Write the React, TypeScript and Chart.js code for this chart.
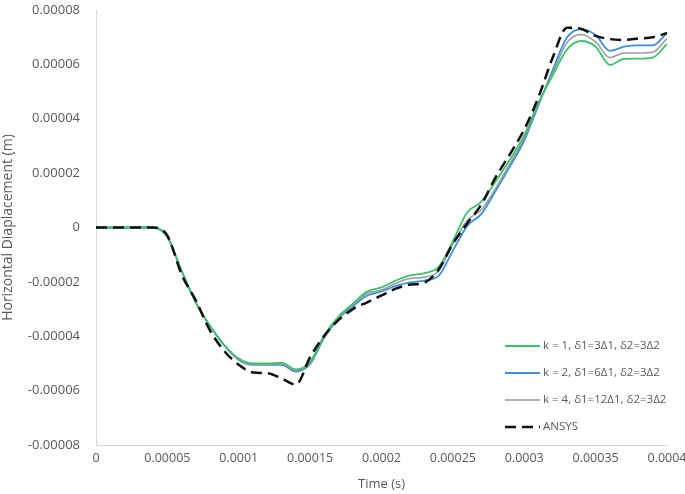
import React, { useEffect, useRef } from "react";
import { Chart, registerables } from "chart.js";

Chart.register(...registerables);

// time in seconds (step 1e-5)
const timeSteps: number[] = [
  0, 0.00001, 0.00002, 0.00003, 0.00004, 0.00005, 0.00006, 0.00007, 0.00008, 0.00009,
  0.0001, 0.00011, 0.00012, 0.00013, 0.00014, 0.00015, 0.00016, 0.00017, 0.00018, 0.00019,
  0.0002, 0.00021, 0.00022, 0.00023, 0.00024, 0.00025, 0.00026, 0.00027, 0.00028, 0.00029,
  0.0003, 0.00031, 0.00032, 0.00033, 0.00034, 0.00035, 0.00036, 0.00037, 0.00038, 0.00039,
  0.0004,
];

// displacement in units of 1e-5 m
const k1Values: number[] = [
  0, 0, 0, 0, 0, -0.35, -1.6, -2.77, -3.63, -4.33,
  -4.82, -5.0, -5.0, -4.97, -5.22, -4.94, -3.96, -3.27, -2.8, -2.35,
  -2.2, -1.95, -1.76, -1.68, -1.45, -0.5, 0.55, 0.95, 1.7, 2.5,
  3.4, 4.6, 5.6, 6.55, 6.86, 6.65, 5.98, 6.2, 6.21, 6.25,
  6.75,
];
const k2Values: number[] = [
  0, 0, 0, 0, 0, -0.35, -1.6, -2.77, -3.63, -4.35,
  -4.87, -5.05, -5.05, -5.05, -5.3, -5.02, -4.05, -3.35, -2.9, -2.5,
  -2.35, -2.15, -2.02, -1.95, -1.78, -0.85, 0.05, 0.5, 1.35, 2.25,
  3.2, 4.5, 5.8, 7.0, 7.3, 7.08, 6.5, 6.65, 6.7, 6.7,
  7.15,
];
const k4Values: number[] = [
  0, 0, 0, 0, 0, -0.35, -1.6, -2.77, -3.63, -4.34,
  -4.85, -5.03, -5.03, -5.02, -5.26, -4.98, -4.0, -3.3, -2.85, -2.42,
  -2.3, -2.05, -1.88, -1.83, -1.6, -0.6, 0.26, 0.65, 1.45, 2.35,
  3.3, 4.55, 5.7, 6.8, 7.1, 6.83, 6.25, 6.42, 6.42, 6.45,
  6.95,
];
const ansysValues: number[] = [
  0, 0, 0, 0, 0, -0.3, -1.73, -2.69, -3.8, -4.55,
  -5.05, -5.33, -5.36, -5.55, -5.78, -4.77, -3.97, -3.4, -3.0, -2.75,
  -2.5, -2.25, -2.1, -2.03, -1.55, -0.6, 0.15, 0.85, 1.85, 2.7,
  3.61, 4.8, 6.26, 7.35, 7.3, 7.05, 6.93, 6.9, 6.95, 7.0,
  7.15,
];

const seriesLabels: string[] = [
  "k = 1, δ1=3Δ1, δ2=3Δ2",
  "k = 2, δ1=6Δ1, δ2=3Δ2",
  "k = 4, δ1=12Δ1, δ2=3Δ2",
  "ANSYS",
];

const xTickLabels: string[] = [
  "0", "0.00005", "0.0001", "0.00015", "0.0002", "0.00025", "0.0003", "0.00035", "0.0004",
];
const yTickLabels: string[] = [
  "-0.00008", "-0.00006", "-0.00004", "-0.00002", "0", "0.00002", "0.00004", "0.00006", "0.00008",
];

const FONT = "'Open Sans', 'Liberation Sans', sans-serif";
const TEXT = "#595959";

const toPoints = (vals: number[]) =>
  vals.map((v, i) => ({ x: timeSteps[i], y: v * 1e-5 }));

const legendPlugin = {
  id: "insideLegend",
  afterDraw(chart: any) {
    const { ctx, chartArea } = chart;
    const left = chartArea.right - 162;
    const top = chartArea.bottom - 99;
    ctx.save();
    ctx.font = `11.5px ${FONT}`;
    ctx.textBaseline = "middle";
    ctx.textAlign = "left";
    chart.data.datasets.forEach((ds: any, i: number) => {
      const y = top + i * 27;
      ctx.beginPath();
      ctx.strokeStyle = ds.borderColor;
      ctx.lineWidth = ds.borderWidth;
      ctx.setLineDash(ds.borderDash || []);
      ctx.moveTo(left, y);
      ctx.lineTo(left + 35, y);
      ctx.stroke();
      ctx.setLineDash([]);
      ctx.fillStyle = TEXT;
      ctx.fillText(ds.label, left + 38, y);
    });
    ctx.restore();
  },
};

export default function App() {
  const ref = useRef<HTMLCanvasElement | null>(null);
  useEffect(() => {
    document.body.style.margin = "0";
    const canvas = ref.current!;
    const chart = new Chart(canvas, {
      type: "line",
      data: {
        datasets: [
          {
            label: seriesLabels[0],
            data: toPoints(k1Values),
            borderColor: "#3cc26a",
            borderWidth: 1.8,
            pointRadius: 0,
            cubicInterpolationMode: "monotone",
            order: 1,
          },
          {
            label: seriesLabels[1],
            data: toPoints(k2Values),
            borderColor: "#3a8fdc",
            borderWidth: 1.8,
            pointRadius: 0,
            cubicInterpolationMode: "monotone",
            order: 3,
          },
          {
            label: seriesLabels[2],
            data: toPoints(k4Values),
            borderColor: "#9a9a9a",
            borderWidth: 1.5,
            pointRadius: 0,
            cubicInterpolationMode: "monotone",
            order: 2,
          },
          {
            label: seriesLabels[3],
            data: toPoints(ansysValues),
            borderColor: "#111111",
            borderWidth: 2.5,
            borderDash: [11, 6],
            pointRadius: 0,
            cubicInterpolationMode: "monotone",
            order: 0,
          },
        ],
      } as any,
      options: {
        animation: false,
        responsive: false,
        maintainAspectRatio: false,
        layout: { padding: { top: 0, right: 0, left: 0, bottom: 0 } },
        plugins: {
          legend: { display: false },
          tooltip: { enabled: false },
        },
        scales: {
          x: {
            type: "linear",
            min: 0,
            max: 0.0004,
            afterFit: (s: any) => {
              s.height = 49;
              s.paddingRight = 18;
              s.paddingLeft = 0;
            },
            afterBuildTicks: (s: any) => {
              s.ticks = xTickLabels.map((_, i) => ({ value: i * 0.00005 }));
            },
            ticks: {
              autoSkip: false,
              maxRotation: 0,
              padding: 6,
              color: TEXT,
              font: { family: FONT, size: 12.5 },
              callback: (_v: any, i: number) => xTickLabels[i],
            },
            grid: { display: false, drawTicks: false },
            border: { display: true, color: "#d9d9d9", width: 1 },
            title: {
              display: true,
              text: "Time (s)",
              color: TEXT,
              font: { family: FONT, size: 13 },
              padding: { top: 0, bottom: 2 },
            },
          },
          y: {
            type: "linear",
            min: -0.00008,
            max: 0.00008,
            afterFit: (s: any) => {
              s.width = 96;
              s.paddingTop = 10;
              s.paddingBottom = 0;
            },
            afterBuildTicks: (s: any) => {
              s.ticks = yTickLabels.map((_, i) => ({ value: -0.00008 + i * 0.00002 }));
            },
            ticks: {
              autoSkip: false,
              padding: 16,
              color: TEXT,
              font: { family: FONT, size: 13 },
              callback: (_v: any, i: number) => yTickLabels[i],
            },
            grid: { display: false, drawTicks: false },
            border: { display: true, color: "#d9d9d9", width: 1 },
            title: {
              display: true,
              text: "Horizontal Diaplacement (m)",
              color: TEXT,
              font: { family: FONT, size: 14 },
              padding: { top: 0, bottom: 0 },
            },
          },
        },
      } as any,
      plugins: [legendPlugin],
    });
    return () => chart.destroy();
  }, []);
  return (
    <div style={{ position: "absolute", left: 0, top: 0, width: 685, height: 494, background: "#fff" }}>
      <canvas ref={ref} width={685} height={494} style={{ width: 685, height: 494 }} />
    </div>
  );
}
